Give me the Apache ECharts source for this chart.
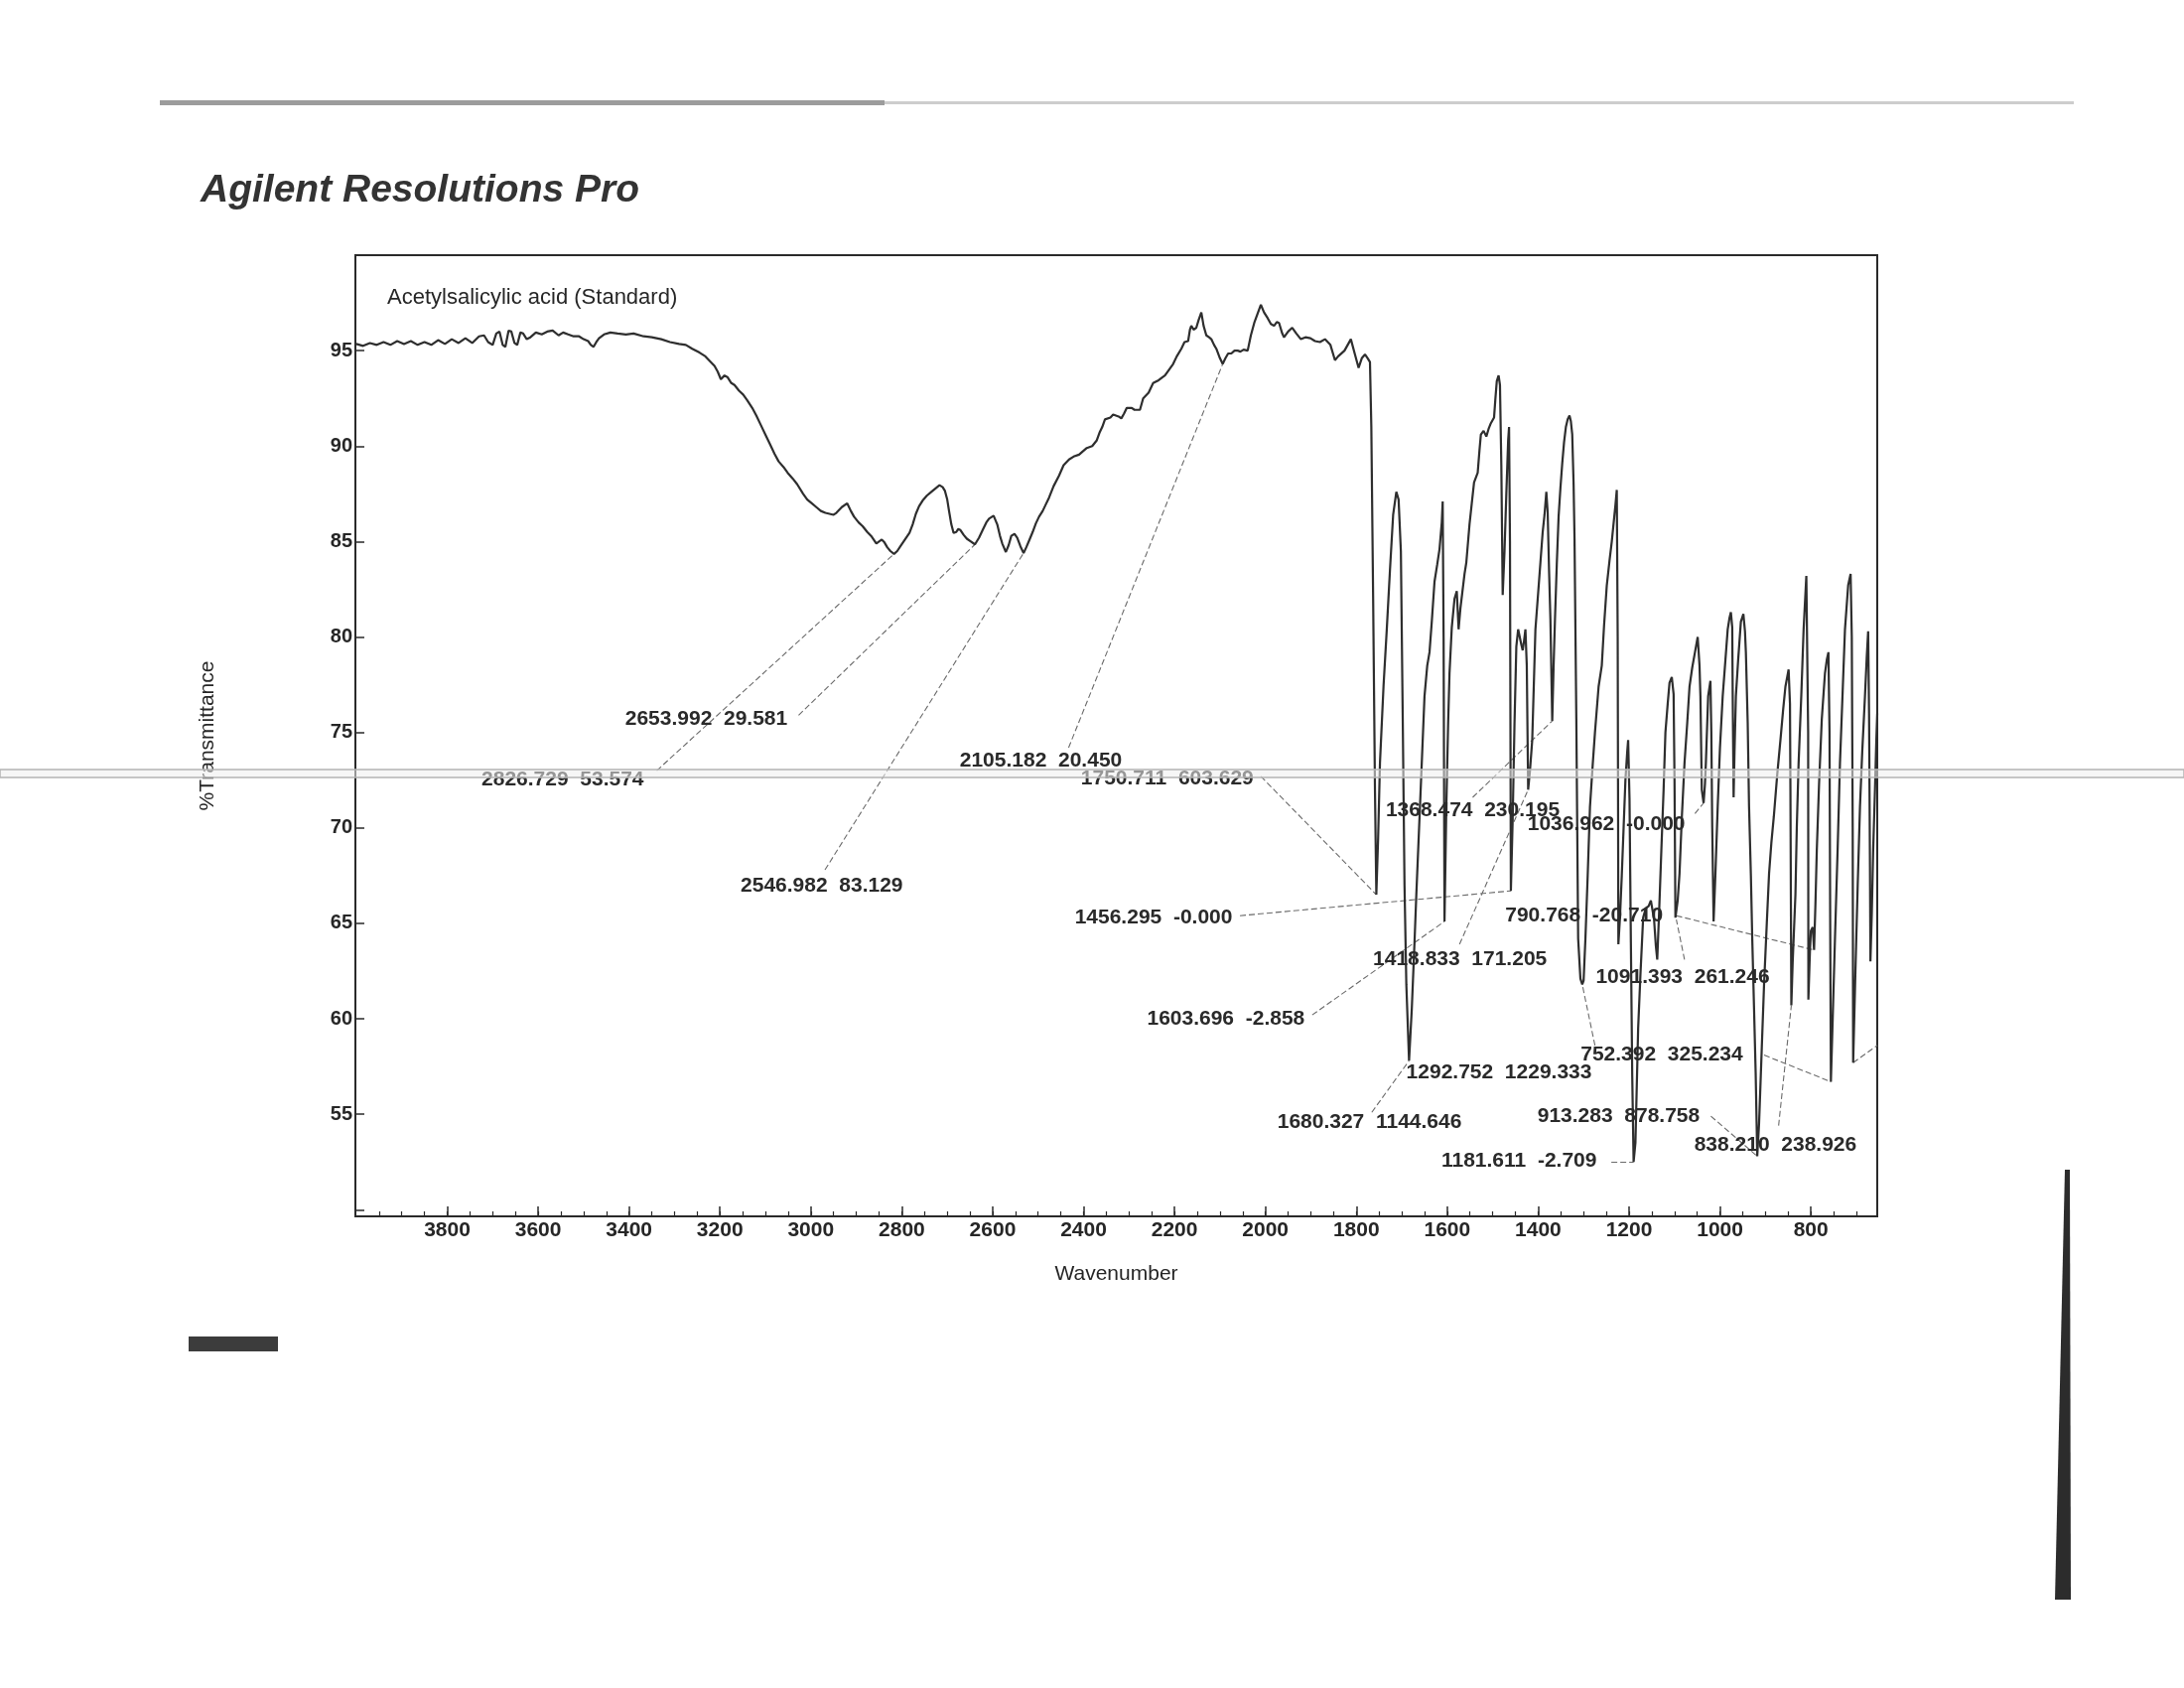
<!DOCTYPE html>
<html>
<head>
<meta charset="utf-8">
<title>Agilent Resolutions Pro</title>
<script src="https://cdn.jsdelivr.net/npm/echarts@6/dist/echarts.min.js"></script>
<style>
    html, body { margin: 0; padding: 0; background: #ffffff; }
    #chart { width: 2200px; height: 1700px; }
</style>
</head>
<body>
<div id="chart"></div>
<script>
// spectrum (wavenumber in cm-1, %T)
var wavenumbers = [
    4000, 3985, 3970, 3955, 3940, 3925, 3910, 3895, 3880, 3865, 3850, 3835, 3820, 3805, 3790, 3775, 3760, 3745, 3730, 3719,
    3710, 3700, 3692, 3685, 3678, 3672, 3665, 3659, 3652, 3646, 3639, 3633, 3625, 3617, 3605, 3592, 3580, 3568, 3555, 3545,
    3534, 3522, 3510, 3500, 3490, 3484, 3478, 3472, 3466, 3455, 3441, 3425, 3407, 3390, 3368, 3350, 3329, 3310, 3290, 3275,
    3261, 3245, 3232, 3220, 3212, 3205, 3198, 3190, 3183, 3175, 3168, 3158, 3149, 3140, 3129, 3120, 3110, 3100, 3090, 3080,
    3071, 3060, 3051, 3040, 3030, 3017, 3008, 2998, 2988, 2978, 2968, 2959, 2950, 2944, 2932, 2920, 2912, 2905, 2895, 2886,
    2876, 2866, 2856, 2850, 2844, 2838, 2832, 2825, 2817, 2810, 2803, 2793, 2783, 2776, 2769, 2762, 2754, 2745, 2735, 2725,
    2717, 2710, 2705, 2700, 2696, 2691, 2686, 2680, 2676, 2671, 2664, 2657, 2648, 2639, 2630, 2622, 2614, 2608, 2598, 2590,
    2584, 2579, 2571, 2565, 2559, 2552, 2546, 2539, 2532, 2526, 2519, 2512, 2505, 2498, 2490, 2483, 2476, 2466, 2454, 2444,
    2432, 2422, 2410, 2393, 2381, 2371, 2365, 2359, 2353, 2341, 2335, 2323, 2317, 2311, 2305, 2294, 2288, 2276, 2269, 2257,
    2247, 2235, 2227, 2221, 2212, 2203, 2195, 2185, 2178, 2170, 2166, 2163, 2158, 2152, 2147, 2141, 2136, 2130, 2124, 2119,
    2113, 2108, 2100, 2094, 2088, 2082, 2075, 2068, 2061, 2055, 2048, 2039, 2032, 2024, 2017, 2010, 2003, 1995, 1988, 1981,
    1975, 1970, 1963, 1959, 1950, 1941, 1932, 1922, 1912, 1901, 1891, 1880, 1869, 1857, 1847, 1840, 1826, 1812, 1803, 1795,
    1788, 1781, 1775, 1770, 1767, 1763, 1759, 1756, 1752, 1748, 1740, 1733, 1726, 1719, 1712, 1707, 1702, 1698, 1694, 1690,
    1684, 1678, 1672, 1668, 1660, 1650, 1644, 1639, 1634, 1628, 1622, 1617, 1612, 1610, 1608, 1606, 1602, 1598, 1595, 1590,
    1584, 1579, 1575, 1571, 1567, 1562, 1558, 1551, 1546, 1541, 1533, 1529, 1526, 1520, 1514, 1509, 1504, 1497, 1494, 1491,
    1487, 1484, 1481, 1478, 1474, 1470, 1466, 1464, 1462, 1460, 1456, 1452, 1448, 1444, 1441, 1437, 1434, 1431, 1428, 1425,
    1422, 1418, 1413, 1406, 1400, 1395, 1390, 1386, 1382, 1379, 1376, 1373, 1369, 1366, 1363, 1359, 1355, 1351, 1347, 1343,
    1339, 1335, 1331, 1328, 1325, 1322, 1320, 1316, 1312, 1307, 1303, 1300, 1296, 1291, 1286, 1280, 1275, 1267, 1260, 1255,
    1249, 1243, 1238, 1233, 1230, 1227, 1225, 1223.5, 1220, 1216, 1212, 1208, 1204, 1202, 1199, 1196, 1193, 1190, 1186, 1183,
    1180, 1175, 1169, 1163, 1157, 1152, 1149, 1145, 1141, 1138, 1134, 1129, 1124, 1120, 1115, 1111, 1106, 1102, 1100, 1098,
    1096, 1093, 1089, 1084, 1078, 1072, 1067, 1061, 1055, 1049, 1045, 1043, 1040, 1036, 1033, 1031, 1028, 1026, 1021, 1019,
    1017, 1014, 1010, 1005, 1000, 994, 988, 983, 979, 976, 973, 972, 970, 968, 965, 960, 954, 948.5, 945, 943,
    939, 936, 932, 929, 925, 921.5, 918, 914, 908, 903, 897, 892, 887, 881.5, 874, 867, 861, 856, 849, 846,
    845, 843, 840, 834, 831, 827, 821, 816, 810, 807, 806, 805.5, 802, 800, 796, 793, 790, 787, 782, 776,
    769, 765, 761.4, 759, 757.5, 756, 752, 747, 741, 736, 730, 725, 718, 712.6, 710, 708, 707, 702, 697, 692,
    687, 681, 677, 674, 672, 670, 669, 666, 663, 659, 656, 654
];
var transmittance = [
    95.35, 95.25, 95.4, 95.3, 95.45, 95.3, 95.5, 95.35, 95.5, 95.3, 95.45, 95.3, 95.55, 95.35, 95.6, 95.4, 95.65, 95.4, 95.75, 95.8,
    95.45, 95.3, 95.9, 96.0, 95.3, 95.2, 96.05, 96.0, 95.4, 95.3, 95.95, 95.9, 95.6, 95.7, 95.95, 95.85, 96.0, 96.05, 95.8, 95.95,
    95.85, 95.75, 95.75, 95.6, 95.5, 95.3, 95.2, 95.45, 95.65, 95.85, 95.95, 95.9, 95.85, 95.9, 95.75, 95.7, 95.6, 95.45, 95.35, 95.3,
    95.1, 94.9, 94.7, 94.4, 94.2, 93.9, 93.5, 93.7, 93.6, 93.3, 93.2, 92.9, 92.7, 92.4, 92.0, 91.6, 91.1, 90.6, 90.1, 89.6,
    89.2, 88.9, 88.6, 88.3, 88.0, 87.5, 87.2, 87.0, 86.8, 86.6, 86.5, 86.45, 86.4, 86.5, 86.8, 87.0, 86.6, 86.3, 86.0, 85.8,
    85.5, 85.25, 84.9, 85.0, 85.1, 84.95, 84.7, 84.5, 84.35, 84.5, 84.75, 85.1, 85.45, 85.9, 86.45, 86.85, 87.15, 87.4, 87.6, 87.8,
    87.95, 87.85, 87.65, 87.2, 86.6, 85.9, 85.45, 85.5, 85.65, 85.6, 85.35, 85.15, 85.0, 84.85, 85.2, 85.6, 86.0, 86.2, 86.35, 85.9,
    85.3, 84.9, 84.45, 84.8, 85.3, 85.4, 85.2, 84.75, 84.4, 84.7, 85.1, 85.5, 85.95, 86.3, 86.6, 86.95, 87.3, 87.9, 88.45, 89.0,
    89.3, 89.45, 89.55, 89.9, 90.0, 90.3, 90.7, 91.0, 91.4, 91.5, 91.65, 91.55, 91.45, 91.7, 92.0, 92.0, 91.9, 91.9, 92.5, 92.8,
    93.3, 93.45, 93.6, 93.7, 94.0, 94.3, 94.7, 95.1, 95.45, 95.5, 96.1, 96.3, 96.1, 96.2, 96.6, 97.0, 96.3, 95.8, 95.7, 95.6,
    95.3, 95.1, 94.6, 94.3, 94.6, 94.85, 94.85, 95.0, 95.0, 94.95, 95.05, 95.0, 95.8, 96.5, 96.95, 97.4, 97.0, 96.7, 96.4, 96.3,
    96.5, 96.45, 95.9, 95.7, 96.0, 96.2, 95.9, 95.6, 95.7, 95.65, 95.5, 95.45, 95.6, 95.3, 94.5, 94.7, 95.0, 95.6, 94.8, 94.1,
    94.6, 94.8, 94.6, 94.4, 91.0, 82.0, 72.0, 66.5, 69.5, 73.4, 77.5, 80.4, 83.5, 86.4, 87.6, 87.2, 84.5, 76.0, 67.0, 61.8,
    57.8, 60.5, 64.0, 66.5, 71.1, 76.9, 78.5, 79.2, 80.8, 82.9, 83.8, 84.6, 86.0, 87.1, 80.0, 65.1, 71.1, 75.5, 78.1, 80.5,
    82.0, 82.4, 80.4, 81.5, 82.3, 83.3, 83.9, 85.9, 87.0, 88.1, 88.6, 89.8, 90.6, 90.8, 90.5, 90.9, 91.2, 91.5, 92.5, 93.4,
    93.7, 93.2, 89.0, 82.2, 84.5, 87.5, 90.3, 91.0, 85.0, 66.7, 70.5, 75.5, 79.5, 80.4, 80.5, 79.6, 79.3, 79.8, 80.4, 78.5,
    72.0, 73.0, 74.6, 80.4, 82.3, 83.9, 85.5, 86.4, 87.6, 86.5, 83.5, 80.9, 75.6, 78.5, 80.9, 83.8, 86.3, 87.8, 89.1, 90.2,
    91.0, 91.4, 91.6, 91.3, 90.6, 88.0, 85.2, 75.7, 64.2, 62.1, 61.8, 62.0, 64.2, 67.5, 71.1, 73.3, 75.0, 77.4, 78.5, 80.6,
    82.7, 84.0, 85.0, 86.2, 86.9, 87.7, 80.0, 63.9, 65.3, 67.5, 70.0, 72.5, 74.0, 74.6, 71.5, 64.0, 57.0, 52.5, 53.5, 56.5,
    59.5, 62.3, 65.3, 65.8, 65.9, 66.2, 66.3, 65.2, 63.8, 63.1, 65.5, 68.8, 72.0, 75.0, 76.5, 77.6, 77.9, 77.0, 72.5, 65.3,
    65.2, 66.2, 67.6, 70.5, 73.4, 75.5, 77.4, 78.4, 79.2, 80.0, 78.5, 76.9, 72.0, 71.3, 72.3, 73.4, 75.5, 76.9, 77.7, 75.0,
    70.0, 65.1, 67.6, 71.1, 74.2, 76.9, 78.8, 80.4, 81.0, 81.3, 80.5, 77.0, 71.6, 74.0, 76.9, 78.8, 80.8, 81.2, 80.3, 79.2,
    75.5, 71.1, 67.5, 64.2, 60.5, 57.2, 52.8, 54.5, 58.5, 61.8, 65.0, 67.6, 69.2, 70.6, 72.8, 74.6, 76.2, 77.4, 78.3, 76.5,
    72.0, 60.7, 63.0, 66.5, 70.0, 73.4, 77.0, 80.4, 83.2, 83.3, 75.0, 61.0, 63.6, 64.6, 64.8, 63.6, 66.0, 68.8, 72.3, 75.7,
    78.1, 78.8, 79.2, 75.0, 65.0, 56.7, 60.0, 64.2, 69.0, 73.4, 77.2, 80.4, 82.7, 83.3, 80.0, 70.0, 57.7, 62.5, 67.0, 71.1,
    74.0, 76.9, 79.0, 80.3, 76.0, 68.0, 63.0, 65.5, 68.8, 72.0, 74.6, 76.0
];

// tick values
var xLabelTicks = [800, 1000, 1200, 1400, 1600, 1800, 2000, 2200, 2400, 2600, 2800, 3000, 3200, 3400, 3600, 3800];
var xMinorTicks = [];
for (var t = 700; t <= 3950; t += 50) xMinorTicks.push(t);
var yLabelTicks = [55, 60, 65, 70, 75, 80, 85, 90, 95];
var yTicks = [50, 55, 60, 65, 70, 75, 80, 85, 90, 95];

// peak annotations as printed by the software
var peakText = [
    '2653.992  29.581', '2826.729  53.574', '2546.982  83.129', '2105.182  20.450',
    '1750.711  603.629', '1368.474  230.195', '1036.962  -0.000', '1456.295  -0.000',
    '1418.833  171.205', '790.768  -20.710', '1091.393  261.246', '1603.696  -2.858',
    '752.392  325.234', '1292.752  1229.333', '1680.327  1144.646', '913.283  878.758',
    '838.210  238.926', '1181.611  -2.709'
];
var peakTextWn = [3230, 3546, 2976, 2494, 2216, 1544, 1250, 2246, 1572, 1299, 1082, 2087, 1128, 1486, 1771, 1223, 878, 1442];
var peakTextT = [75.7, 72.55, 66.95, 73.5, 72.6, 70.9, 70.2, 65.3, 63.1, 65.4, 62.2, 60.0, 58.1, 57.2, 54.6, 54.9, 53.4, 52.55];

// leader lines: label end -> band minimum
var leaderFromWn = [3027, 3339, 2969, 2433, 2010, 1544, 1055, 2056, 1573, 1096, 1078, 1897, 903, 1275, 1766, 1020, 871, 1239, 707];
var leaderFromT = [75.9, 73.0, 67.8, 74.2, 72.7, 71.6, 70.75, 65.4, 63.9, 65.4, 63.1, 60.2, 58.1, 58.6, 55.1, 54.9, 54.4, 52.5, 57.7];
var leaderToWn = [2639, 2817, 2532, 2094, 1756, 1369, 1036, 1460, 1422, 793, 1096, 1606, 756, 1303, 1684, 918, 843, 1190, 654];
var leaderToT = [84.85, 84.35, 84.4, 94.3, 66.5, 75.6, 71.3, 66.7, 72.0, 63.6, 65.2, 65.1, 56.7, 61.8, 57.8, 52.8, 60.7, 52.5, 58.6];

var FONT = 'Liberation Sans, Arial, sans-serif';
var INK = '#262626';

var chart = echarts.init(document.getElementById('chart'));

var spectrum = wavenumbers.map(function (w, i) { return [w, transmittance[i]] });
var labelPoints = peakText.map(function (s, i) { return { name: s, value: [peakTextWn[i], peakTextT[i]] } });
var leaders = leaderFromWn.map(function (w, i) {
    return { coords: [[w, leaderFromT[i]], [leaderToWn[i], leaderToT[i]]] };
});

var option = {
    backgroundColor: '#ffffff',
    animation: false,
    title: [{
        text: 'Agilent Resolutions Pro',
        left: 197,
        top: 168,
        textStyle: { fontFamily: FONT, fontSize: 39, fontWeight: 'bold', fontStyle: 'italic', color: '#333333' }
    }, {
        text: 'Acetylsalicylic acid (Standard)',
        left: 385,
        top: 284,
        textStyle: { fontFamily: FONT, fontSize: 22, fontWeight: 'normal', color: INK }
    }],
    grid: {
        left: 358, right: 309, top: 257, bottom: 475,
        show: true, borderColor: '#2a2a2a', borderWidth: 2
    },
    xAxis: [{
        type: 'value',
        min: 654, max: 4002,
        inverse: true,
        name: 'Wavenumber',
        nameLocation: 'middle',
        nameGap: 48,
        nameTextStyle: { fontFamily: FONT, fontSize: 21, color: INK },
        axisLine: { show: true, lineStyle: { color: '#2a2a2a', width: 2 } },
        axisTick: { show: true, inside: true, length: 10, customValues: xLabelTicks, lineStyle: { color: '#2a2a2a', width: 1.5 } },
        axisLabel: {
            customValues: xLabelTicks, margin: 4,
            formatter: function (v) { return String(v) },
            fontFamily: FONT, fontSize: 21, fontWeight: 'bold', color: INK
        },
        splitLine: { show: false }
    }, {
        type: 'value',
        min: 654, max: 4002,
        inverse: true,
        position: 'bottom',
        axisLine: { show: false },
        axisTick: { show: true, inside: true, length: 5, customValues: xMinorTicks, lineStyle: { color: '#2a2a2a', width: 1.2 } },
        axisLabel: { show: false },
        splitLine: { show: false }
    }],
    yAxis: {
        type: 'value',
        min: 49.65, max: 100,
        name: '%Transmittance',
        nameLocation: 'middle',
        nameGap: 138,
        nameTextStyle: { fontFamily: FONT, fontSize: 21, color: INK },
        axisLine: { show: true, lineStyle: { color: '#2a2a2a', width: 2 } },
        axisTick: { show: true, inside: true, length: 9, customValues: yTicks, lineStyle: { color: '#2a2a2a', width: 1.5 } },
        axisLabel: { customValues: yLabelTicks, margin: 3, fontFamily: FONT, fontSize: 20, fontWeight: 'bold', color: INK },
        splitLine: { show: false }
    },
    series: [{
        type: 'line',
        data: spectrum,
        showSymbol: false,
        smooth: false,
        lineStyle: { color: '#2e2e2e', width: 2.2 },
        z: 3
    }, {
        type: 'lines',
        coordinateSystem: 'cartesian2d',
        data: leaders,
        silent: true,
        lineStyle: { color: '#6a6a6a', width: 1.1, type: [6, 3], opacity: 1 },
        z: 2
    }, {
        type: 'scatter',
        data: labelPoints,
        symbol: 'circle',
        symbolSize: 2,
        itemStyle: { color: 'rgba(0,0,0,0)', opacity: 1 },
        silent: true,
        label: {
            show: true,
            position: 'inside',
            formatter: '{b}',
            fontFamily: FONT,
            fontSize: 21,
            fontWeight: 'bold',
            color: '#2a2a2a',
            opacity: 1
        },
        z: 4
    }],
    graphic: [
        // scan artefacts on the page
        { type: 'rect', shape: { x: 161, y: 101, width: 730, height: 5 }, style: { fill: '#9c9c9c' } },
        { type: 'rect', shape: { x: 891, y: 102, width: 1198, height: 3 }, style: { fill: '#cdcdcd' } },
        { type: 'rect', z: 100, shape: { x: 0, y: 775, width: 2200, height: 8 }, style: { fill: 'rgba(238,238,238,0.55)', stroke: '#b4b4b4', lineWidth: 1.5 } },
        { type: 'polygon', shape: { points: [[2080, 1178], [2085, 1178], [2086, 1611], [2070, 1611]] }, style: { fill: '#2c2c2c' } },
        { type: 'rect', shape: { x: 190, y: 1346, width: 90, height: 15 }, style: { fill: '#3c3c3c' } }
    ]
};

chart.setOption(option);
</script>
</body>
</html>
